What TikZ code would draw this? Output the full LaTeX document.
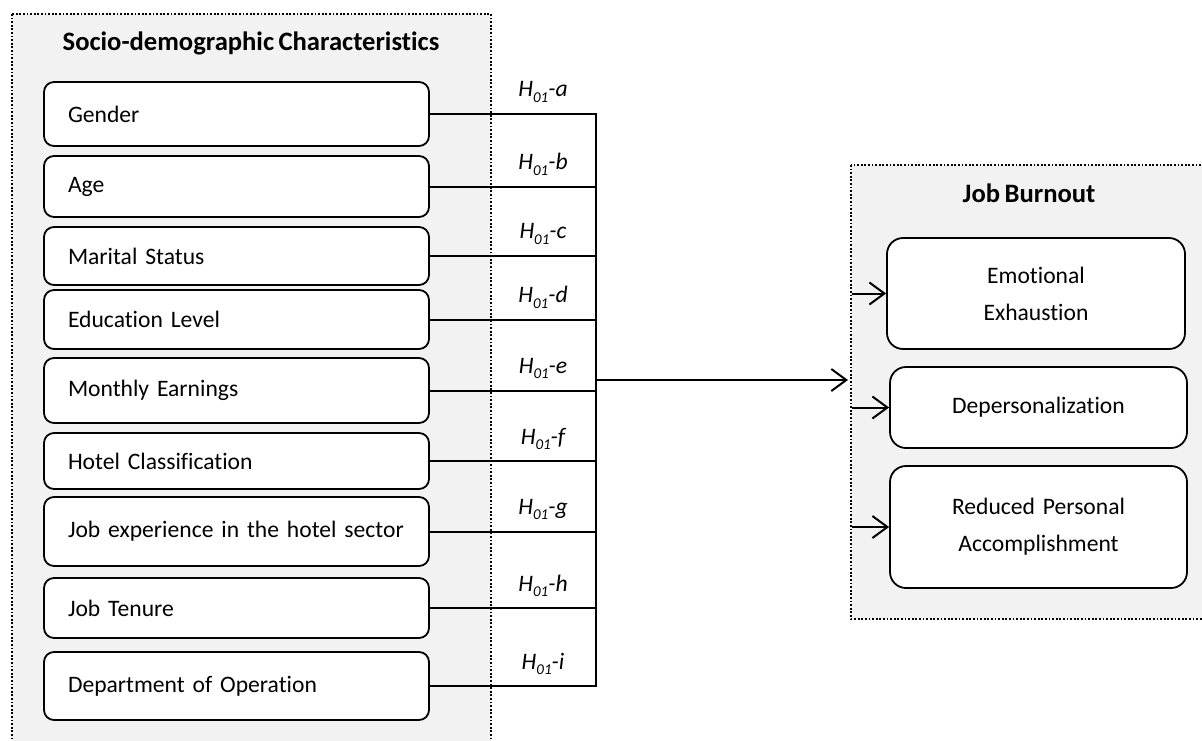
\documentclass[tikz,border=0pt]{standalone}
\usepackage{fontspec}
\setmainfont{Carlito}[Ligatures={NoCommon}, WordSpace=0.75]
\usetikzlibrary{positioning,arrows.meta}
\definecolor{frameGray}{RGB}{242,242,242}
\tikzstyle{frameStyle} = [draw=black, fill=frameGray, line width=1.8pt, dash pattern=on 1.8pt off 1.8pt]
\tikzstyle{factorStyle} = [draw=black, fill=white, rounded corners=10pt, line width=1.8pt, text width=337pt, inner xsep=24pt, inner ysep=0pt, align=left, font=\fontsize{23.6}{29}\selectfont]
\tikzstyle{burnoutStyle} = [draw=black, fill=white, rounded corners=16pt, line width=1.8pt, text width=290pt, inner sep=0pt, align=center, font=\fontsize{23.6}{37}\selectfont]
\tikzstyle{titleText} = [font=\fontsize{26.6}{32}\selectfont\bfseries, anchor=base]
\tikzstyle{hypText} = [font=\fontsize{23.6}{29}\selectfont\itshape, inner sep=0pt]
\tikzstyle{linkLine} = [line width=2pt]
\tikzstyle{linkArrow} = [line width=2pt, -{Straight Barb[length=15pt, width=22pt]}]
\newcommand{\hyp}[1]{H\raisebox{-.24em}{\fontsize{15}{15}\selectfont 01}-#1}
\newcommand{\factorBox}[4]{\node [factorStyle, minimum height=#3pt] (#1) at (236.5, #2) {\mbox{#4}};}
\newcommand{\burnoutBox}[5]{\node [burnoutStyle, minimum width=#3pt, minimum height=#4pt] (#1) at (#2) {#5};}

\begin{document}
\begin{tikzpicture}[x=1pt, y=-1pt]
  \useasboundingbox (0,0) rectangle (1202,740);

  % frames
  \draw [frameStyle] (12,14) rectangle (491,760);
  \draw [frameStyle] (851,165) rectangle (1220,619);
  \node [titleText] (sdTitle) at (251,50) {Socio-demographic Characteristics};
  \node [titleText] (jbTitle) at (1029,202) {Job Burnout};

  % socio-demographic factors
  \factorBox{gender}{114}{64}{Gender}
  \factorBox{age}{186.5}{61}{Age}
  \factorBox{marital}{256}{58}{Marital Status}
  \factorBox{education}{319.5}{59}{Education Level}
  \factorBox{earnings}{390.5}{65}{Monthly Earnings}
  \factorBox{hotel}{461}{56}{Hotel Classification}
  \factorBox{experience}{531.5}{69}{Job experience in the hotel sector}
  \factorBox{tenure}{608}{60}{Job Tenure}
  \factorBox{department}{686}{68}{Department of Operation}

  % burnout dimensions
  \burnoutBox{emotional}{1036,293.5}{298}{111}{Emotional\\Exhaustion}
  \burnoutBox{depers}{1038.5,407.5}{297}{81}{Depersonalization}
  \burnoutBox{reduced}{1038.5,527}{297}{122}{Reduced Personal\\Accomplishment}

  \coordinate (busX) at (596,0);
  \coordinate (labX) at (543,0);
  \coordinate (busOut) at (596,380);
  \coordinate (jbIn) at (848,380);
  \coordinate (frameLeft) at (852,0);

  % hypotheses
  \foreach \f/\l in {gender/a, age/b, marital/c, education/d, earnings/e, hotel/f, experience/g, tenure/h, department/i} {
    \draw [linkLine] (\f.east) -- (\f.east -| busX);
    \path (\f.east -| labX) ++(0,-22) node [hypText] (h\f) {\hyp{\l}};
  }
  \draw [linkLine] ([yshift=1pt]gender.east -| busX) -- ([yshift=-1pt]department.east -| busX);
  \draw [linkArrow] (busOut) -- (jbIn);

  \foreach \b in {emotional, depers, reduced}
    \draw [linkArrow] (\b.west -| frameLeft) -- (\b.west);
\end{tikzpicture}
\end{document}
